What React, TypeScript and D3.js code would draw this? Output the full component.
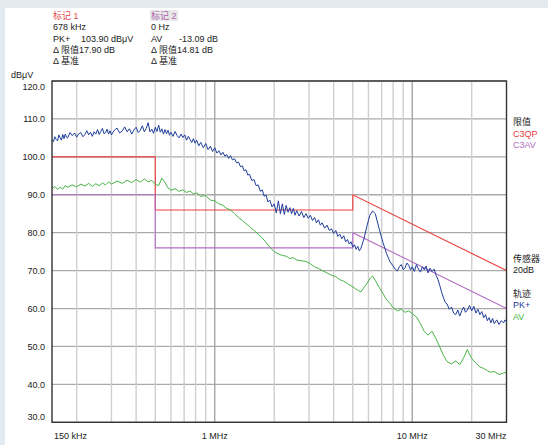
import React from 'react';
import * as d3 from 'd3';

// PK+ trace: [frequency MHz, dBµV]
const pkTrace: [number, number][] = [
  [0.15, 104.5], [0.1525, 104.0], [0.155, 105.3], [0.1575, 104.6], [0.16, 104.2], [0.1625, 105.8],
  [0.165, 105.0], [0.1675, 104.4], [0.17, 105.9], [0.1725, 104.8], [0.175, 106.0], [0.1775, 105.2],
  [0.18, 105.0], [0.185, 106.4], [0.19, 105.6], [0.195, 106.3], [0.2, 105.2], [0.205, 106.1],
  [0.21, 106.4], [0.215, 105.3], [0.22, 105.9], [0.225, 106.9], [0.23, 105.8], [0.235, 106.5],
  [0.24, 105.4], [0.245, 106.6], [0.25, 106.0], [0.255, 107.2], [0.26, 105.9], [0.265, 106.7],
  [0.27, 107.5], [0.275, 106.1], [0.28, 106.4], [0.285, 107.3], [0.29, 106.0], [0.295, 106.9],
  [0.3, 105.8], [0.31, 107.0], [0.32, 107.6], [0.33, 106.3], [0.34, 106.8], [0.35, 107.9],
  [0.36, 106.6], [0.37, 107.4], [0.38, 106.0], [0.39, 107.1], [0.4, 107.8], [0.41, 106.4],
  [0.42, 107.0], [0.43, 108.2], [0.44, 106.6], [0.45, 107.5], [0.46, 109.0], [0.47, 106.6],
  [0.48, 107.3], [0.49, 106.2], [0.5, 107.8], [0.51, 106.7], [0.52, 108.4], [0.53, 106.5],
  [0.54, 107.4], [0.55, 106.0], [0.56, 107.2], [0.57, 106.1], [0.58, 107.0], [0.59, 105.7],
  [0.6, 106.5], [0.615, 105.4], [0.63, 106.7], [0.645, 105.6], [0.66, 105.0], [0.675, 106.0],
  [0.69, 105.1], [0.705, 105.8], [0.72, 104.4], [0.735, 105.4], [0.75, 104.6], [0.765, 103.8],
  [0.78, 104.8], [0.795, 103.6], [0.81, 104.4], [0.83, 102.9], [0.85, 103.8], [0.875, 102.4],
  [0.9, 103.5], [0.925, 101.9], [0.95, 102.8], [0.975, 101.4], [1.0, 102.4], [1.025, 101.0],
  [1.05, 101.6], [1.075, 100.5], [1.1, 101.2], [1.125, 100.2], [1.15, 100.6], [1.175, 99.6],
  [1.2, 100.3], [1.23, 99.2], [1.26, 99.5], [1.29, 98.4], [1.32, 98.6], [1.35, 97.4],
  [1.38, 97.6], [1.41, 96.3], [1.44, 96.6], [1.47, 95.2], [1.5, 95.4], [1.54, 93.8],
  [1.58, 94.0], [1.62, 92.4], [1.66, 92.6], [1.7, 90.9], [1.74, 91.3], [1.78, 89.6],
  [1.82, 89.9], [1.86, 88.1], [1.9, 88.6], [1.95, 86.8], [2.0, 87.6], [2.05, 85.2],
  [2.1, 88.4], [2.15, 85.0], [2.2, 87.6], [2.25, 84.8], [2.3, 87.2], [2.35, 85.4],
  [2.4, 86.6], [2.45, 85.0], [2.5, 86.4], [2.55, 84.6], [2.6, 85.8], [2.675, 84.4],
  [2.75, 85.6], [2.825, 84.0], [2.9, 85.0], [2.975, 83.8], [3.05, 84.6], [3.125, 83.2],
  [3.2, 84.0], [3.275, 82.6], [3.35, 83.4], [3.425, 82.0], [3.5, 82.6], [3.6, 81.2],
  [3.7, 82.0], [3.8, 80.6], [3.9, 81.0], [4.0, 79.8], [4.1, 80.6], [4.2, 79.0],
  [4.3, 79.6], [4.4, 78.4], [4.5, 79.2], [4.6, 77.6], [4.7, 78.2], [4.8, 77.0],
  [4.9, 77.6], [5.0, 76.2], [5.1, 76.8], [5.2, 75.6], [5.3, 76.4], [5.4, 75.2],
  [5.5, 75.9], [5.7, 78.5], [5.9, 81.8], [6.1, 84.6], [6.3, 85.7], [6.5, 85.0],
  [6.8, 81.0], [7.1, 77.5], [7.4, 74.6], [7.7, 72.4], [8.0, 71.2], [8.2, 70.4],
  [8.4, 69.9], [8.6, 71.0], [8.8, 71.6], [9.0, 70.2], [9.2, 70.8], [9.4, 72.0],
  [9.6, 71.4], [9.8, 70.2], [10, 71.0], [10.25, 69.8], [10.5, 71.6], [10.75, 70.4],
  [11, 69.6], [11.25, 71.0], [11.5, 70.2], [11.75, 71.2], [12, 69.4], [12.3, 70.6],
  [12.6, 69.8], [12.9, 70.4], [13.2, 68.8], [13.5, 67.6], [13.8, 66.0], [14.1, 64.2],
  [14.4, 62.8], [14.7, 61.6], [15, 61.2], [15.4, 59.8], [15.8, 60.4], [16.2, 58.8],
  [16.6, 58.4], [17.0, 59.6], [17.4, 58.0], [17.8, 59.4], [18.2, 60.4], [18.6, 59.0],
  [19, 59.6], [19.5, 60.8], [20, 59.4], [20.5, 60.6], [21, 58.8], [21.5, 59.8],
  [22, 58.4], [22.5, 59.2], [23, 57.6], [23.5, 58.4], [24, 56.8], [24.5, 57.6],
  [25, 56.2], [25.5, 57.4], [26, 56.0], [26.75, 57.0], [27.5, 55.8], [28.25, 56.8],
  [29, 56.2], [29.5, 57.0], [30, 56.6],
];

// AV trace frequencies (MHz) and values (dBµV)
const avFreqs = [
  0.15, 0.155, 0.16, 0.165, 0.17, 0.175, 0.18, 0.19, 0.2, 0.21, 0.22, 0.23, 0.24, 0.25, 0.26, 0.27, 0.28, 0.29,
  0.3, 0.32, 0.34, 0.36, 0.38, 0.4, 0.42, 0.44, 0.46, 0.48, 0.5, 0.52, 0.54, 0.56, 0.58, 0.6, 0.63, 0.66, 0.69,
  0.72, 0.75, 0.78, 0.81, 0.85, 0.9, 0.95, 1.0, 1.05, 1.1, 1.15, 1.2, 1.26, 1.32, 1.38, 1.44, 1.5, 1.58, 1.66,
  1.74, 1.82, 1.9, 2.0, 2.1, 2.2, 2.3, 2.4, 2.5, 2.6, 2.75, 2.9, 3.05, 3.2, 3.35, 3.5, 3.7, 3.9, 4.1, 4.3, 4.5,
  4.7, 4.9, 5.1, 5.3, 5.5, 5.7, 5.9, 6.1, 6.3, 6.5, 6.8, 7.1, 7.4, 7.7, 8.0, 8.4, 8.8, 9.2, 9.6, 10, 10.5, 11,
  11.5, 12, 12.6, 13.2, 13.8, 14.4, 15, 15.8, 16.6, 17.4, 18.2, 19, 20, 21, 22, 23, 24, 25, 26, 27.5, 29, 30,
];

const avValues = [
  91.6, 92.2, 91.4, 92.0, 91.5, 92.4, 92.0, 92.6, 92.1, 92.8, 92.3, 93.0, 92.2, 92.9, 92.4, 93.1, 92.6, 93.4,
  92.8, 93.6, 93.0, 93.8, 93.2, 94.0, 93.3, 94.2, 93.4, 93.8, 92.8, 92.4, 94.4, 93.2, 91.8, 91.2, 91.6, 90.9,
  91.3, 90.6, 91.0, 90.2, 90.5, 89.6, 89.8, 88.6, 88.4, 87.6, 87.2, 86.4, 86.0, 85.0, 84.0, 83.2, 82.4, 81.6,
  80.6, 79.6, 78.6, 77.4, 76.2, 75.0, 74.4, 74.0, 73.8, 73.2, 73.4, 72.8, 72.6, 72.4, 71.8, 71.0, 70.6, 70.0,
  69.4, 68.8, 68.4, 67.6, 67.2, 66.6, 66.0, 65.4, 64.8, 64.4, 65.6, 66.6, 67.8, 68.6, 67.4, 65.6, 64.0, 62.4,
  61.4, 60.2, 59.4, 59.8, 59.0, 59.4, 58.6, 57.8, 56.0, 54.0, 53.0, 54.0, 52.0, 49.8, 47.6, 46.0, 45.4, 46.2,
  45.2, 47.0, 49.2, 46.8, 45.6, 44.6, 44.2, 43.6, 43.2, 43.4, 42.6, 43.0, 43.2,
];

// limit lines
const limitFreqs = [0.15, 0.5, 0.5, 5, 5, 30];
const qpLimit = [100, 100, 86, 86, 90, 70];
const avLimit = [90, 90, 76, 76, 80, 60];

const gridFreqs = [0.2, 0.3, 0.4, 0.5, 0.6, 0.7, 0.8, 0.9, 1, 2, 3, 4, 5, 6, 7, 8, 9, 10, 20];
const majorFreqs = [1, 10];
const yTicks = [120, 110, 100, 90, 80, 70, 60, 50, 40, 30];
const xTickFreqs = [0.15, 1, 10, 30];
const xTickLabels = ['150 kHz', '1 MHz', '10 MHz', '30 MHz'];

const marker1 = ['678 kHz', 'PK+', '103.90 dBμV', 'Δ 限值17.90 dB', 'Δ 基准'];
const marker2 = ['0 Hz', 'AV', '-13.09 dB', 'Δ 限值14.81 dB', 'Δ 基准'];

const W = 548;
const H = 445;
const FONT = "'Liberation Sans', Arial, 'Noto Sans CJK SC', sans-serif";

const RED = '#ec3b3b';
const PURPLE = '#b46ec4';
const BLUE = '#1f3d9c';
const GREEN = '#46b446';

const App: React.FC = () => {
  const x = d3.scaleLog().domain([0.15, 30]).range([52, 506.5]);
  const y = d3.scaleLinear().domain([30, 120]).range([422.3, 81]);

  const pkLine = d3
    .line<[number, number]>()
    .x((d) => x(d[0]))
    .y((d) => y(d[1]));
  const avLine = d3
    .line<number>()
    .x((_, i) => x(avFreqs[i]))
    .y((d) => y(d));
  const limit = d3
    .line<number>()
    .x((_, i) => x(limitFreqs[i]))
    .y((d) => y(d));

  const [x0, x1] = x.range();
  const [yb, yt] = y.range();

  return (
    <svg
      width={W}
      height={H}
      style={{ position: 'absolute', left: 0, top: 0, fontFamily: FONT }}
    >
      <rect x={0} y={0} width={W} height={H} fill="#e3eaf0" />
      <rect x={5} y={8} width={W - 5} height={H - 8} fill="#ffffff" />

      {/* marker block */}
      <g fontSize={9} fill="#222">
        <text x={53} y={19} fill="#e04848">标记 1</text>
        <text x={53} y={30}>{marker1[0]}</text>
        <text x={53} y={41.5}>{marker1[1]}</text>
        <text x={81} y={41.5}>{marker1[2]}</text>
        <text x={53} y={53}>{marker1[3]}</text>
        <text x={53} y={64}>{marker1[4]}</text>

        <rect x={150} y={10} width={28} height={11} fill="#e8e8e8" />
        <text x={151} y={19} fill="#b060b0">标记 2</text>
        <text x={151} y={30}>{marker2[0]}</text>
        <text x={151} y={41.5}>{marker2[1]}</text>
        <text x={179} y={41.5}>{marker2[2]}</text>
        <text x={151} y={53}>{marker2[3]}</text>
        <text x={151} y={64}>{marker2[4]}</text>
      </g>

      <text x={11} y={78} fontSize={9} fill="#222">dBμV</text>

      {/* grid */}
      {yTicks.map((t) => (
        <line key={t} x1={x0} x2={x1} y1={y(t)} y2={y(t)} stroke="#aaaaaa" strokeWidth={1.3} />
      ))}
      {gridFreqs.map((f) => (
        <line
          key={f}
          x1={x(f)}
          x2={x(f)}
          y1={yt}
          y2={yb}
          stroke={majorFreqs.includes(f) ? '#a6a6a6' : '#cfcfcf'}
          strokeWidth={1.4}
        />
      ))}

      {/* y labels */}
      {yTicks.map((t, i) => {
        let yy = y(t) + 3.2;
        if (i === 0) yy += 6;
        if (i === yTicks.length - 1) yy -= 6;
        return (
          <text key={t} x={45} y={yy} fontSize={9} textAnchor="end" fill="#222">
            {t.toFixed(1)}
          </text>
        );
      })}

      {/* x labels */}
      {xTickFreqs.map((f, i) => (
        <text
          key={f}
          x={i === 0 ? x(f) + 2 : x(f)}
          y={439}
          fontSize={9}
          fill="#222"
          textAnchor={i === 0 ? 'start' : i === xTickFreqs.length - 1 ? 'end' : 'middle'}
        >
          {xTickLabels[i]}
        </text>
      ))}

      {/* limits */}
      <path d={limit(qpLimit) || ''} fill="none" stroke={RED} strokeWidth={1.1} />
      <path d={limit(avLimit) || ''} fill="none" stroke={PURPLE} strokeWidth={1.1} />

      {/* traces */}
      <path d={avLine(avValues) || ''} fill="none" stroke={GREEN} strokeWidth={1} />
      <path d={pkLine(pkTrace) || ''} fill="none" stroke={BLUE} strokeWidth={1} />

      {/* frame */}
      <rect x={x0} y={yt} width={x1 - x0} height={yb - yt} fill="none" stroke="#333" strokeWidth={1.4} />

      {/* right legend */}
      <g fontSize={9} fill="#222">
        <text x={513} y={125}>限值</text>
        <text x={513} y={136.5} fill={RED}>C3QP</text>
        <text x={513} y={148} fill={PURPLE}>C3AV</text>
        <text x={513} y={261.5}>传感器</text>
        <text x={513} y={273}>20dB</text>
        <text x={513} y={296.5}>轨迹</text>
        <text x={513} y={308} fill={BLUE}>PK+</text>
        <text x={513} y={319.5} fill={GREEN}>AV</text>
      </g>
    </svg>
  );
};

export default App;
